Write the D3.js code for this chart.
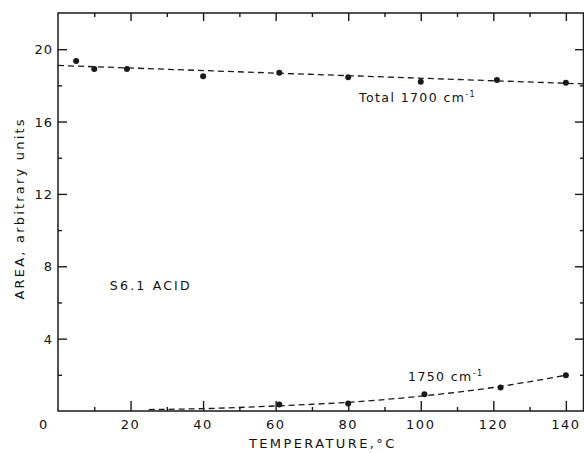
<!DOCTYPE html>
<html>
<head>
<meta charset="utf-8">
<script src="https://cdn.jsdelivr.net/npm/d3@7"></script>
<style>
  body { margin: 0; background: #fff; overflow: hidden; }
  text { font-family: "DejaVu Sans", sans-serif; fill: #111; }
</style>
</head>
<body>
<div id="chart"></div>
<script>
// data
var totalTemp = [5, 10, 19, 40, 61, 80, 100, 121, 140];
var totalArea = [19.35, 18.9, 18.9, 18.5, 18.7, 18.45, 18.2, 18.3, 18.15];
var totalFitTemp = [0, 145];
var totalFitArea = [19.1, 18.08];

var bandTemp = [61, 80, 101, 122, 140];
var bandArea = [0.36, 0.42, 0.92, 1.3, 1.97];
var bandFitTemp = [25, 40, 60, 80, 100, 120, 140];
var bandFitArea = [0.08, 0.13, 0.28, 0.48, 0.82, 1.3, 1.98];

var xTicks = [0, 20, 40, 60, 80, 100, 120, 140];
var yTicks = [0, 4, 8, 12, 16, 20];

// geometry
var margin = {top: 13, right: 0, bottom: 42, left: 58},
    width = 584 - margin.left - margin.right,
    height = 453 - margin.top - margin.bottom;

var svg = d3.select("#chart").append("svg")
    .attr("width", 584)
    .attr("height", 453)
    .style("display", "block")
  .append("g")
    .attr("transform", "translate(" + margin.left + "," + margin.top + ")");

var x = d3.scaleLinear().domain([0, 145]).range([0, width]);
var y = d3.scaleLinear().domain([0, 22]).range([height, 0]);

var ink = "#1a1a1a";

// frame
svg.append("rect")
    .attr("x", 0).attr("y", 0)
    .attr("width", width - 0.5).attr("height", height)
    .attr("fill", "none")
    .attr("stroke", ink)
    .attr("stroke-width", 1.5);

// inward ticks on all four sides
var minorX = d3.range(10, 145, 20), minorY = d3.range(2, 22, 4);

function noDomain(g) { g.select(".domain").remove(); }

svg.append("g")
    .attr("transform", "translate(0," + height + ")")
    .call(d3.axisTop(x).tickValues(xTicks.slice(1)).tickSize(10).tickFormat(""))
    .call(noDomain);
svg.append("g")
    .attr("transform", "translate(0," + height + ")")
    .call(d3.axisTop(x).tickValues(minorX).tickSize(4).tickFormat(""))
    .call(noDomain);
svg.append("g")
    .call(d3.axisBottom(x).tickValues(xTicks.slice(1)).tickSize(8).tickFormat(""))
    .call(noDomain);
svg.append("g")
    .call(d3.axisBottom(x).tickValues(minorX).tickSize(4).tickFormat(""))
    .call(noDomain);
svg.append("g")
    .call(d3.axisRight(y).tickValues(yTicks.slice(1)).tickSize(9).tickFormat(""))
    .call(noDomain);
svg.append("g")
    .call(d3.axisRight(y).tickValues(minorY).tickSize(4).tickFormat(""))
    .call(noDomain);
svg.append("g")
    .attr("transform", "translate(" + width + ",0)")
    .call(d3.axisLeft(y).tickValues(yTicks.slice(1)).tickSize(9).tickFormat(""))
    .call(noDomain);
svg.append("g")
    .attr("transform", "translate(" + width + ",0)")
    .call(d3.axisLeft(y).tickValues(minorY).tickSize(4).tickFormat(""))
    .call(noDomain);

svg.selectAll(".tick line").attr("stroke", ink).attr("stroke-width", 1.4);

// tick labels
svg.selectAll(".xlab")
    .data(xTicks)
  .enter().append("text")
    .attr("x", function(d) { return d === 0 ? x(d) - 14 : x(d); })
    .attr("y", height + 18)
    .attr("text-anchor", "middle")
    .style("font-size", "13px")
    .style("letter-spacing", "1.5px")
    .text(function(d) { return d; });

svg.selectAll(".ylab")
    .data(yTicks.slice(1))
  .enter().append("text")
    .attr("x", -5)
    .attr("y", function(d) { return y(d) + 5; })
    .attr("text-anchor", "end")
    .style("font-size", "13px")
    .style("letter-spacing", "1px")
    .text(function(d) { return d; });

// axis titles
svg.append("text")
    .attr("x", x(73))
    .attr("y", height + 37)
    .attr("text-anchor", "middle")
    .style("font-size", "13px")
    .style("letter-spacing", "2.4px")
    .text("TEMPERATURE,\u00B0C");

svg.append("text")
    .attr("transform", "translate(-34," + y(11.2) + ") rotate(-90)")
    .attr("text-anchor", "middle")
    .style("font-size", "13px")
    .style("letter-spacing", "2.2px")
    .text("AREA, arbitrary units");

// fit lines
var line = d3.line()
    .x(function(d) { return x(d[0]); })
    .y(function(d) { return y(d[1]); });

svg.append("path")
    .datum(d3.zip(totalFitTemp, totalFitArea))
    .attr("d", line)
    .attr("fill", "none")
    .attr("stroke", ink)
    .attr("stroke-width", 1.3)
    .attr("stroke-dasharray", "6,4");

svg.append("path")
    .datum(d3.zip(bandFitTemp, bandFitArea))
    .attr("d", line.curve(d3.curveMonotoneX))
    .attr("fill", "none")
    .attr("stroke", ink)
    .attr("stroke-width", 1.3)
    .attr("stroke-dasharray", "6,4");

// points
svg.selectAll(".dot-total")
    .data(d3.zip(totalTemp, totalArea))
  .enter().append("circle")
    .attr("cx", function(d) { return x(d[0]); })
    .attr("cy", function(d) { return y(d[1]); })
    .attr("r", 3)
    .attr("fill", ink);

svg.selectAll(".dot-band")
    .data(d3.zip(bandTemp, bandArea))
  .enter().append("circle")
    .attr("cx", function(d) { return x(d[0]); })
    .attr("cy", function(d) { return y(d[1]); })
    .attr("r", 3)
    .attr("fill", ink);

// annotations
var t1 = svg.append("text")
    .attr("x", x(83))
    .attr("y", y(17.1))
    .style("font-size", "12.5px")
    .style("letter-spacing", "1.4px")
    .text("Total 1700 cm");
t1.append("tspan").attr("dy", -5).style("font-size", "8px").text("-1");

var t2 = svg.append("text")
    .attr("x", x(96.5))
    .attr("y", y(1.65))
    .style("font-size", "12.5px")
    .style("letter-spacing", "1.4px")
    .text("1750 cm");
t2.append("tspan").attr("dy", -5).style("font-size", "8px").text("-1");

svg.append("text")
    .attr("x", x(14.3))
    .attr("y", y(6.7))
    .style("font-size", "12.5px")
    .style("letter-spacing", "2.2px")
    .text("S6.1 ACID");
</script>
</body>
</html>
